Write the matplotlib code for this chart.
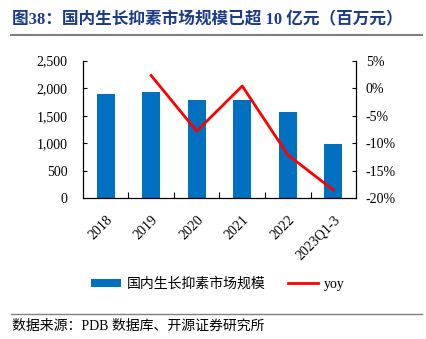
import numpy as np
import matplotlib
matplotlib.use("Agg")
import matplotlib.pyplot as plt
from matplotlib.ticker import FuncFormatter, FixedLocator

plt.rcParams['font.family'] = ['Liberation Serif', 'Noto Sans CJK SC']
plt.rcParams['axes.unicode_minus'] = False

# data
years = ['2018', '2019', '2020', '2021', '2022', '2023Q1-3']
market = [1889, 1931, 1780, 1786, 1568, 981]       # 百万元
yoy = [np.nan, 2.3, -7.8, 0.4, -12.1, -18.5]         # %

bar_color = '#0070C0'
line_color = '#FF0000'

fig = plt.figure(figsize=(4.27, 3.39), dpi=100)
ax = fig.add_axes([0.194, 0.415, 0.640, 0.406])
ax2 = ax.twinx()

x = np.arange(len(years))
bars = ax.bar(x, market, width=0.4, color=bar_color, label='国内生长抑素市场规模', zorder=2)
line, = ax2.plot(x, yoy, color=line_color, lw=2, label='yoy', zorder=3)

ax.set_xlim(-0.5, len(years) - 0.5)
ax.set_ylim(0, 2500)
ax.set_yticks(np.arange(0, 2501, 500))
ax.yaxis.set_major_formatter(FuncFormatter(lambda v, p: f'{v:,.0f}'))
ax2.set_ylim(-20, 5)
ax2.set_yticks(np.arange(-20, 6, 5))
ax2.yaxis.set_major_formatter(FuncFormatter(lambda v, p: f'{int(round(v))}%'))

ax.set_xticks(x)
ax.set_xticklabels(years, rotation=45, ha='right', rotation_mode='anchor')
ax.xaxis.set_minor_locator(FixedLocator(x[:-1] + 0.5))
ax.tick_params(axis='x', which='major', length=0, pad=11, labelsize=10)
ax.tick_params(axis='x', which='minor', direction='in', length=4, width=0.8)
ax.tick_params(axis='y', direction='in', length=3, width=0.8, pad=11, labelsize=10)
ax2.tick_params(axis='y', direction='in', length=3, width=0.8, pad=7, labelsize=10)

for a in (ax, ax2):
    a.spines['top'].set_visible(False)
    for s in ('left', 'right', 'bottom'):
        a.spines[s].set_linewidth(0.8)
        a.spines[s].set_color('black')

fig.legend([bars, line], ['国内生长抑素市场规模', 'yoy'], loc='center',
           bbox_to_anchor=(0.51, 1 - 284 / 339), ncol=2, frameon=False,
           fontsize=10, handlelength=2.2, handleheight=0.55, columnspacing=1.6,
           handletextpad=0.4)

# title and footer
fig.text(12 / 427, 1 - 20 / 339, '图38：国内生长抑素市场规模已超 10 亿元（百万元）',
         fontsize=12, fontweight='bold', color='#1A3A8A', va='center', ha='left')
fig.add_artist(plt.Line2D([11 / 427, 422 / 427], [1 - 35 / 339] * 2,
                          color='#808080', lw=1.5))
fig.add_artist(plt.Line2D([11 / 427, 422 / 427], [1 - 314 / 339] * 2,
                          color='#808080', lw=1))
fig.text(12 / 427, 1 - 326 / 339, '数据来源：PDB 数据库、开源证券研究所',
         fontsize=10, color='black', va='center', ha='left')

fig.savefig('out.png', dpi=100)
